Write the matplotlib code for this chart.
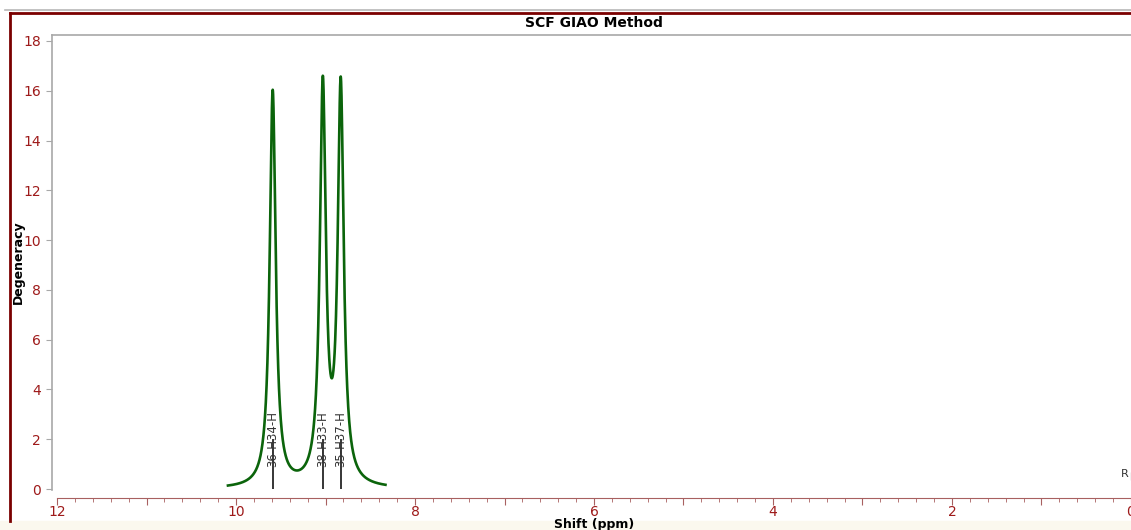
import numpy as np
from matplotlib import pyplot as plt
from matplotlib.ticker import MultipleLocator, FuncFormatter
from matplotlib.lines import Line2D
from matplotlib.patches import Rectangle

# =========== DONNEES ===========
shifts = [9.59, 9.03, 8.83]          # ppm
degeneracy = [2, 2, 2]
labels = ["36-H34-H", "38-H33-H", "35-H37-H"]
half_width = 0.04                    # ppm (lorentzienne)
window = 0.5                         # ppm de part et d'autre des pics
ref_shift = 0.0
ref_label = "R"

title = "SCF GIAO Method"
xlabel = "Shift (ppm)"
ylabel = "Degeneracy"

# =========== SPECTRE ===========
x = np.linspace(max(shifts) + window, min(shifts) - window, 800)
y = np.zeros_like(x)
for s, d in zip(shifts, degeneracy):
    y += d / np.pi * half_width / ((x - s) ** 2 + half_width ** 2)

W, H = 1131, 530
fig = plt.figure(figsize=(W / 100, H / 100), dpi=100)
plt.rcParams['font.family'] = ['DejaVu Sans']

red = "#9e1a1a"
gray = "#a8a8a8"
axred = "#a86060"

def fx(px):
    return px / W

def fy(py):
    return 1 - py / H

# cadre
fig.add_artist(Rectangle((0, 0), 1, fy(521), transform=fig.transFigure, color="#fbf8ee", zorder=-5))
fig.add_artist(Line2D([fx(5), 1], [fy(10), fy(10)], transform=fig.transFigure, color="#b8b8b8", lw=1.2))
fig.add_artist(Line2D([fx(9.5), 1], [fy(13), fy(13)], transform=fig.transFigure, color="#7a0000", lw=2))
fig.add_artist(Line2D([fx(9.5), fx(9.5)], [fy(13), fy(521)], transform=fig.transFigure, color="#7a0000", lw=2))

ax = fig.add_axes([fx(52), fy(490), fx(1136 - 52), (490 - 35) / H])
ax.set_xlim(12.056, -0.056)
ax.set_ylim(-0.04, 18.24)

ax.plot(x, y, color="#0b640b", lw=1.9, zorder=3)
for s, d, lab in zip(shifts, degeneracy, labels):
    ax.vlines(s, 0, d, color="black", lw=1.1, zorder=2)
    ax.text(s, d, lab, rotation=90, ha="center", va="center", fontsize=8.5,
            color="#333333", zorder=4)
ax.vlines(ref_shift, 0.35, 0.7, color="black", lw=0.8)
ax.text(ref_shift + 0.03, 0.6, ref_label, ha="right", va="center", fontsize=8, color="#333333")

ax.spines["right"].set_visible(False)
ax.spines["left"].set_color(gray)
ax.spines["top"].set_color(gray)
ax.spines["left"].set_linewidth(1.2)
ax.spines["top"].set_linewidth(1.2)
ax.spines["bottom"].set_position(("outward", 6))
ax.spines["bottom"].set_bounds(0, 12)
ax.spines["bottom"].set_color(axred)

ax.yaxis.set_major_locator(MultipleLocator(2))
ax.xaxis.set_major_locator(MultipleLocator(1))
ax.xaxis.set_minor_locator(MultipleLocator(0.2))
ax.xaxis.set_major_formatter(FuncFormatter(lambda v, p: f"{v:.0f}" if round(v) % 2 == 0 else ""))
ax.tick_params(axis="y", direction="out", length=4, color=gray, labelcolor=red, labelsize=10, pad=4)
ax.tick_params(axis="x", which="major", direction="out", length=5, color=axred, labelcolor=red, labelsize=10, pad=0)
ax.tick_params(axis="x", which="minor", direction="out", length=3, color=axred)

ax.set_xlabel(xlabel, fontsize=9, fontweight="bold", labelpad=-1)
ax.set_ylabel(ylabel, fontsize=9, fontweight="bold", labelpad=-1)
fig.text(fx(594), fy(23), title, ha="center", va="center", fontsize=10, fontweight="bold")

plt.savefig("out.png", dpi=100)
